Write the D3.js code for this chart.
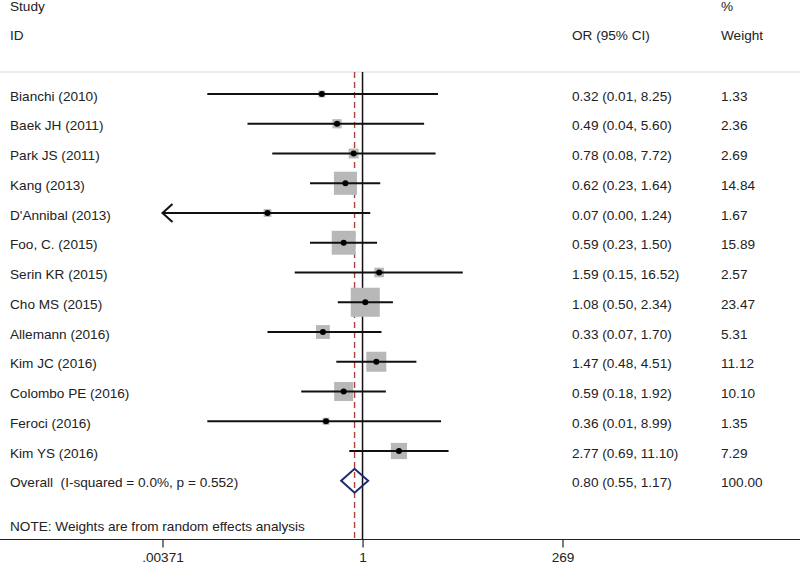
<!DOCTYPE html>
<html><head><meta charset="utf-8">
<script src="https://cdn.jsdelivr.net/npm/d3@7"></script>
<style>body{margin:0;background:#fff}svg{display:block}text{font-family:Arial,"Liberation Sans",sans-serif;font-size:13.6px;fill:#222}</style>
</head><body><svg id="c" width="800" height="567"></svg>
<script>
const studies = ["Bianchi (2010)","Baek JH (2011)","Park JS (2011)","Kang (2013)","D'Annibal (2013)","Foo, C. (2015)","Serin KR (2015)","Cho MS (2015)","Allemann (2016)","Kim JC (2016)","Colombo PE (2016)","Feroci (2016)","Kim YS (2016)"];
const orVals = [0.32,0.49,0.78,0.62,0.07,0.59,1.59,1.08,0.33,1.47,0.59,0.36,2.77];
const loVals = [0.013,0.04,0.08,0.23,0.0,0.23,0.15,0.50,0.07,0.48,0.18,0.013,0.69];
const hiVals = [8.25,5.60,7.72,1.64,1.24,1.50,16.52,2.34,1.70,4.51,1.92,8.99,11.10];
const weights = ["1.33","2.36","2.69","14.84","1.67","15.89","2.57","23.47","5.31","11.12","10.10","1.35","7.29"];
const overall = {label:"Overall  (I-squared = 0.0%, p = 0.552)", or:0.80, lo:0.55, hi:1.17, weight:"100.00"};
const tickVals = [0.00371, 1, 269];
const tickLabels = [".00371","1","269"];

const svg = d3.select("#c");
const x = d3.scaleLog().domain([0.00371, 269]).range([162.5, 562.5]);
const y = d3.scaleLinear().domain([0, 13]).range([94, 480.75]);
const fmt = v => v.toFixed(2);
const topY = 72, axisY = 539.5;
const orX = 572, wX = 721, tdy = 6.5;

// headers
svg.append("text").attr("x",10).attr("y",11).text("Study");
svg.append("text").attr("x",10).attr("y",40).text("ID");
svg.append("text").attr("x",orX).attr("y",40).text("OR (95% CI)");
svg.append("text").attr("x",wX).attr("y",11).text("%");
svg.append("text").attr("x",wX).attr("y",40).text("Weight");
svg.append("line").attr("x1",0).attr("x2",800).attr("y1",topY).attr("y2",topY).attr("stroke","#d8d8d8").attr("stroke-width",1.2);

// reference lines
svg.append("line").attr("x1",x(1)).attr("x2",x(1)).attr("y1",topY).attr("y2",axisY).attr("stroke","#111").attr("stroke-width",1.5);
svg.append("line").attr("x1",x(overall.or)).attr("x2",x(overall.or)).attr("y1",topY).attr("y2",axisY)
  .attr("stroke","#b0403a").attr("stroke-width",1.4).attr("stroke-dasharray","6,4");

// rows
const rows = svg.append("g").selectAll("g").data(studies).join("g");
rows.append("text").attr("x",10).attr("y",(d,i)=>y(i)+tdy).text(d=>d);
rows.append("text").attr("x",orX).attr("y",(d,i)=>y(i)+tdy).text((d,i)=>`${fmt(orVals[i])} (${fmt(loVals[i])}, ${fmt(hiVals[i])})`);
rows.append("text").attr("x",wX).attr("y",(d,i)=>y(i)+tdy).text((d,i)=>weights[i]);
rows.append("rect")
  .attr("x",(d,i)=>x(orVals[i]) - 3*Math.sqrt(+weights[i]))
  .attr("y",(d,i)=>y(i) - 3*Math.sqrt(+weights[i]))
  .attr("width",(d,i)=>6*Math.sqrt(+weights[i]))
  .attr("height",(d,i)=>6*Math.sqrt(+weights[i]))
  .attr("fill","#b8b8b8");
rows.append("line")
  .attr("x1",(d,i)=>x(Math.max(loVals[i],0.00371)))
  .attr("x2",(d,i)=>x(hiVals[i]))
  .attr("y1",(d,i)=>y(i)).attr("y2",(d,i)=>y(i))
  .attr("stroke","#111").attr("stroke-width",2);
rows.append("circle").attr("cx",(d,i)=>x(orVals[i])).attr("cy",(d,i)=>y(i)).attr("r",3).attr("fill","#000");
// arrow for truncated lower CI
rows.filter((d,i)=>loVals[i] < 0.00371).append("path")
  .attr("d",d=>{const i=studies.indexOf(d), ax=x(0.00371), ay=y(i); return `M${ax+10},${ay-9}L${ax},${ay}L${ax+10},${ay+9}`;})
  .attr("fill","none").attr("stroke","#111").attr("stroke-width",2);

// overall diamond
const oy = y(13);
svg.append("text").attr("x",10).attr("y",oy+tdy).attr("xml:space","preserve").style("white-space","pre").text(overall.label);
svg.append("text").attr("x",orX).attr("y",oy+tdy).text(`${fmt(overall.or)} (${fmt(overall.lo)}, ${fmt(overall.hi)})`);
svg.append("text").attr("x",wX).attr("y",oy+tdy).text(overall.weight);
svg.append("path")
  .attr("d",`M${x(overall.lo)},${oy}L${x(overall.or)},${oy-12}L${x(overall.hi)},${oy}L${x(overall.or)},${oy+12}Z`)
  .attr("fill","none").attr("stroke","#1f2a6e").attr("stroke-width",2);

svg.append("text").attr("x",10).attr("y",531).text("NOTE: Weights are from random effects analysis");

// axis
const axis = d3.axisBottom(x).tickValues(tickVals).tickFormat((d,i)=>tickLabels[i]).tickSizeOuter(0).tickSize(8).tickPadding(4.5);
const ag = svg.append("g").attr("transform",`translate(0,${axisY})`).call(axis);
ag.select(".domain").remove();
ag.selectAll(".tick line").attr("stroke","#222").attr("stroke-width",1.2);
ag.selectAll(".tick text").style("font-size","13.6px").style("fill","#222").style("font-family","Arial, 'Liberation Sans', sans-serif");
svg.append("line").attr("x1",0).attr("x2",800).attr("y1",axisY).attr("y2",axisY).attr("stroke","#222").attr("stroke-width",1.2);
</script></body></html>
